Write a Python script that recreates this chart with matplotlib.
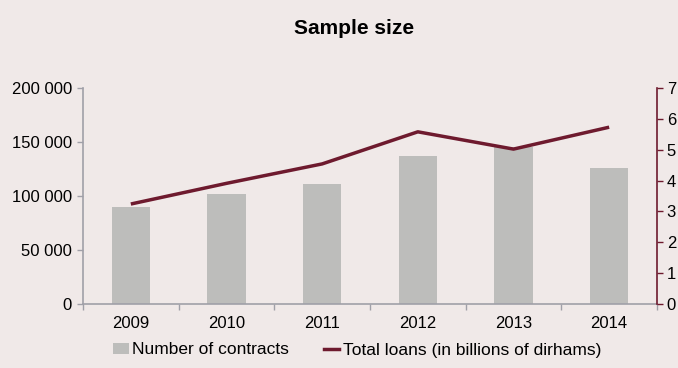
import matplotlib
matplotlib.use("Agg")
import matplotlib.pyplot as plt
import numpy as np
from matplotlib.lines import Line2D
from matplotlib.patches import Patch

years = ["2009", "2010", "2011", "2012", "2013", "2014"]
contracts = [89500, 102000, 111000, 137500, 145800, 126200]
loans = [3.24, 3.91, 4.54, 5.58, 5.02, 5.73]
left_ticks = [0, 50000, 100000, 150000, 200000]
left_labels = ["0", "50 000", "100 000", "150 000", "200 000"]
right_ticks = [0, 1, 2, 3, 4, 5, 6, 7]
right_labels = ["0", "1", "2", "3", "4", "5", "6", "7"]

BG = "#F0E9E8"
BAR = "#BDBDBB"
LINE = "#6E1A2E"
AX = "#A0A0A8"

plt.rcParams['font.family'] = ['Liberation Sans', 'DejaVu Sans']

fig = plt.figure(figsize=(6.78, 3.68), dpi=100, facecolor=BG)
ax = fig.add_axes([83/678, 1-304/368, (657-83)/678, (304-88)/368])
ax.set_facecolor(BG)
x = np.arange(len(years))
ax.bar(x, contracts, width=0.4, color=BAR, zorder=2)
ax.set_xlim(-0.5, len(years)-0.5)
ax.set_ylim(0, 200000)
ax.set_yticks(left_ticks)
ax.set_yticklabels(left_labels, fontsize=12)
ax.set_xticks(x)
ax.set_xticklabels(years, fontsize=12)
ax.set_xticks(np.arange(-0.5, len(years)), minor=True)
ax.tick_params(axis='x', which='major', length=0, pad=9)
ax.tick_params(axis='x', which='minor', length=4, color=AX, width=1)
ax.tick_params(axis='y', length=4, color=AX, width=1, pad=4)
for s in ['top', 'right']:
    ax.spines[s].set_visible(False)
for s in ['left', 'bottom']:
    ax.spines[s].set_color(AX)
    ax.spines[s].set_linewidth(1.2)

ax2 = ax.twinx()
ax2.plot(x, loans, color=LINE, lw=2.5, zorder=3, solid_capstyle='butt')
ax2.set_ylim(0, 7)
ax2.set_yticks(right_ticks)
ax2.set_yticklabels(right_labels, fontsize=12)
ax2.tick_params(axis='y', length=4, color=LINE, width=1, pad=3)
for s in ['top', 'left', 'bottom']:
    ax2.spines[s].set_visible(False)
ax2.spines['right'].set_color(LINE)
ax2.spines['right'].set_linewidth(1.2)

fig.text(354/678, 1-29/368, "Sample size", ha='center', va='center',
         fontsize=15, fontweight='bold')

handles = [Patch(facecolor=BAR, edgecolor='none'),
           Line2D([0], [0], color=LINE, lw=2.5)]
fig.legend(handles, ["Number of contracts", "Total loans (in billions of dirhams)"],
           loc='center', bbox_to_anchor=(357/678, 1-350/368), ncol=2, frameon=False,
           fontsize=12.5, handlelength=0.9, handletextpad=0.2, columnspacing=2.0,
           handleheight=0.55)

fig.savefig("out.png", dpi=100, facecolor=BG)
